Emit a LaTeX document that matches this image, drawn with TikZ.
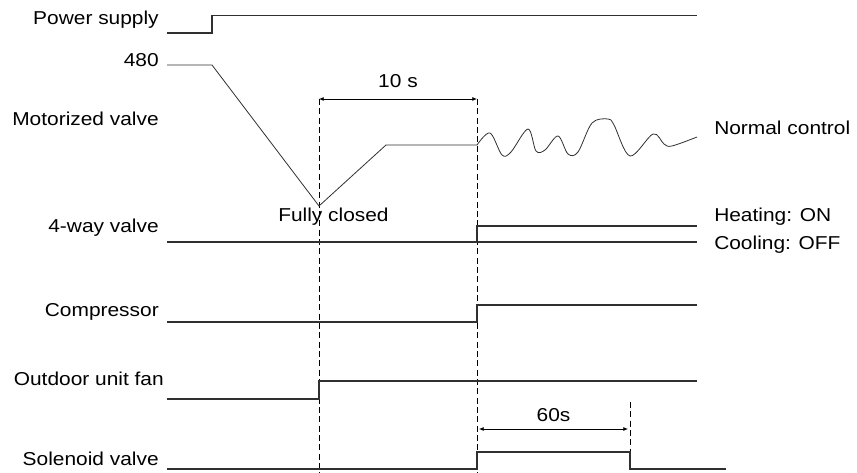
\documentclass[tikz,border=0pt]{standalone}
\usepackage{fontspec}
\setmainfont{Liberation Sans}[FakeStretch=1.12]
\usepackage{tikz}
\usetikzlibrary{arrows.meta, calc}
\definecolor{signalGray}{HTML}{303030}

\tikzset{
  signal/.style={signalGray, line width=0.8pt},
  guide/.style={black, line width=0.7pt, dash pattern=on 4.5pt off 2.5pt},
  span/.style={black, line width=0.6pt, {Latex[length=3.5pt,width=3pt]}-{Latex[length=3.5pt,width=3pt]}},
  sigLabel/.style={font=\fontsize{14pt}{16pt}\selectfont, inner sep=0pt, anchor=base east},
  stateLabel/.style={font=\fontsize{14pt}{16pt}\selectfont, inner sep=0pt, anchor=base west},
}

\begin{document}
\begin{tikzpicture}[x=0.75pt, y=-0.75pt]
    \useasboundingbox (0,0) rectangle (857,473);

    % ══════════════════════════════════════════════
    % ══ NOMBRES DE SEÑALES ══
    % ══════════════════════════════════════════════
    \node[sigLabel] (lPower)    at (159,25)  {Power supply};
    \node[sigLabel] (lOpen)     at (159,67)  {480};
    \node[sigLabel] (lValve)    at (159,126) {Motorized valve};
    \node[sigLabel] (lFourWay)  at (159,233) {4-way valve};
    \node[sigLabel] (lComp)     at (159,317) {Compressor};
    \node[sigLabel] (lFan)      at (164,386) {Outdoor unit fan};
    \node[sigLabel] (lSolenoid) at (159,466) {Solenoid valve};

    % ══════════════════════════════════════════════
    % ══ LÍNEAS GUÍA (instantes) ══
    % ══════════════════════════════════════════════
    \coordinate (tClose) at (319,99);
    \coordinate (tStart) at (477,99);
    \coordinate (tStop)  at (630,402);

    \draw[guide] (tClose) -- (319,473);
    \draw[guide] (tStart) -- (477,473);
    \draw[guide] (tStop) -- (630,469);

    % Intervalo de 10 s
    \draw[span] (tClose) -- (tStart)
        node[midway, above=8pt, font=\fontsize{14pt}{16pt}\selectfont, inner sep=0pt] (lTen) {10 s};

    % Intervalo de 60 s
    \draw[span] (479,429) -- (628,429)
        node[midway, above=5.5pt, font=\fontsize{14pt}{16pt}\selectfont, inner sep=0pt] (lSixty) {60s};

    % ══════════════════════════════════════════════
    % ══ SEÑALES ══
    % ══════════════════════════════════════════════

    % Alimentación
    \draw[signal] (167,33) -- (212,33) -- (212,15.5) -- (697,15.5);

    % Válvula motorizada: cierre total y apertura
    \draw[signal, line width=0.6pt] (167,65) -- (212,65) -- (319,206) -- (386,145) -- (477,145);
    \node[stateLabel] (lClosed) at (278,222) {Fully closed};

    % Control normal (oscilación)
    \draw[signal, line width=0.6pt] plot[smooth, tension=0.55] coordinates {
        (477,145) (490,133) (502,155) (511,152) (528,129) (536,151) (545,150)
        (558,136) (568,154) (578,152) (592,123) (608,119) (614,125) (630,156)
        (653,134) (664,144) (672,146) (697,137)};
    \node[stateLabel] (lNormal) at (714,135) {Normal control};

    % Válvula de 4 vías
    \draw[signal] (167,242) -- (697,242);
    \draw[signal] (477,242) -- (477,226) -- (697,226);
    \node[stateLabel] (lHeat) at (714,222) {Heating: ON};
    \node[stateLabel] (lCool) at (714,250) {Cooling: OFF};

    % Compresor
    \draw[signal] (167,322) -- (477,322) -- (477,305) -- (697,305);

    % Ventilador exterior
    \draw[signal] (167,399) -- (319,399) -- (319,381) -- (697,381);

    % Válvula solenoide
    \draw[signal] (167,469) -- (477,469) -- (477,452) -- (630,452) -- (630,469) -- (726,469);

\end{tikzpicture}
\end{document}
